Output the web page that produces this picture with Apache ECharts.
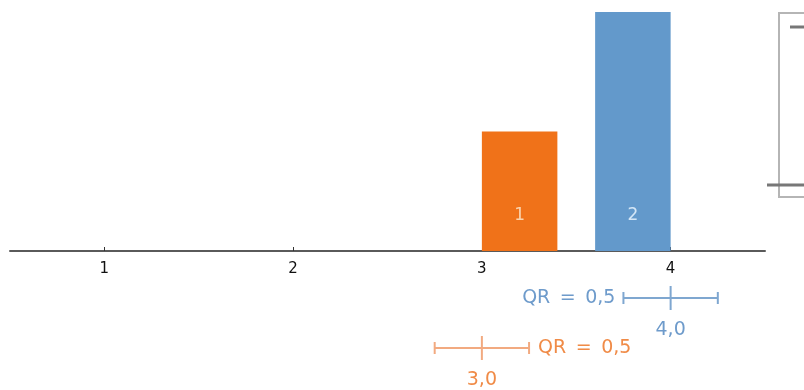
<!DOCTYPE html>
<html>
<head>
<meta charset="utf-8">
<script src="https://cdn.jsdelivr.net/npm/echarts@6/dist/echarts.min.js"></script>
<style>html,body{margin:0;padding:0;background:#fff}#c{width:804px;height:390px}</style>
</head>
<body>
<div id="c"></div>
<script>
// Histogram bins: [start, end]
var binStart = [3.0, 3.6];
var binEnd = [3.4, 4.0];
var binCount = [1, 2];
var binColors = ['#F07219', '#6399CB'];
var binLabelColors = ['#FAD3AE', '#D4E6F6'];

// Spread summaries per series (row 0 = blue, row 1 = orange)
var rows = ['blue', 'orange'];
var q1 = [3.75, 2.75];
var q3 = [4.25, 3.25];
var median = [4.0, 3.0];
var medianLabels = ['4,0', '3,0'];
var qrLabels = ['QR = 0,5', 'QR = 0,5'];
var qrSide = ['left', 'right'];
var lineColors = ['#7FA7D0', '#F2AA80'];
var textColors = ['#6E9BCB', '#F08B47'];

// x-axis tick labels
var xTicks = [1, 2, 3, 4];

var chart = echarts.init(document.getElementById('c'));
var FONT = 'DejaVu Sans';

var barData = binStart.map(function (s, i) { return [s, binEnd[i], binCount[i], i]; });
var boxData = rows.map(function (r, i) { return [q1[i], q3[i], median[i], i]; });

chart.setOption({
  animation: false,
  grid: [
    { left: 10, right: 39, top: 12, height: 239 },
    { left: 10, right: 39, top: 273, height: 100 }
  ],
  xAxis: [
    {
      gridIndex: 0, type: 'value', min: 0.5, max: 4.5, interval: 0.5,
      axisLine: { show: true, lineStyle: { color: '#5a5a5a', width: 2 } },
      axisTick: { show: true, inside: true, length: 4, lineStyle: { color: '#333' },
        customValues: xTicks },
      axisLabel: { color: '#111', fontSize: 15, fontFamily: FONT, margin: 11,
        customValues: xTicks },
      splitLine: { show: false }
    },
    {
      gridIndex: 1, type: 'value', min: 0.5, max: 4.5, show: false
    }
  ],
  yAxis: [
    { gridIndex: 0, type: 'value', min: 0, max: 2, show: false },
    { gridIndex: 1, type: 'category', data: rows, inverse: true, show: false }
  ],
  series: [
    {
      type: 'custom',
      xAxisIndex: 0, yAxisIndex: 0,
      data: barData,
      clip: false,
      renderItem: function (params, api) {
        var i = api.value(3);
        var p0 = api.coord([api.value(0), api.value(2)]);
        var p1 = api.coord([api.value(1), 0]);
        return {
          type: 'group',
          children: [
            { type: 'rect', shape: { x: p0[0], y: p0[1], width: p1[0] - p0[0], height: p1[1] - p0[1] },
              style: { fill: binColors[i] } },
            { type: 'text', x: (p0[0] + p1[0]) / 2, y: p1[1] - 35,
              style: { text: String(api.value(2)), fill: binLabelColors[i], fontSize: 17, fontFamily: FONT,
                align: 'center', verticalAlign: 'middle' } }
          ]
        };
      }
    },
    {
      type: 'custom',
      xAxisIndex: 1, yAxisIndex: 1,
      data: boxData,
      clip: false,
      renderItem: function (params, api) {
        var i = api.value(3);
        var a = api.coord([api.value(0), i]);
        var b = api.coord([api.value(1), i]);
        var m = api.coord([api.value(2), i]);
        var y = a[1];
        var ls = { stroke: lineColors[i], lineWidth: 2 };
        var qrX = qrSide[i] === 'left' ? a[0] - 8 : b[0] + 9;
        return {
          type: 'group',
          children: [
            { type: 'line', shape: { x1: a[0], y1: y, x2: b[0], y2: y }, style: ls },
            { type: 'line', shape: { x1: a[0], y1: y - 6, x2: a[0], y2: y + 6 }, style: ls },
            { type: 'line', shape: { x1: b[0], y1: y - 6, x2: b[0], y2: y + 6 }, style: ls },
            { type: 'line', shape: { x1: m[0], y1: y - 12, x2: m[0], y2: y + 12 }, style: ls },
            { type: 'text', x: qrX, y: y,
              style: { text: qrLabels[i].replace(/ /g, '\u2002'), fill: textColors[i], fontSize: 19, fontFamily: FONT,
                align: qrSide[i] === 'left' ? 'right' : 'left', verticalAlign: 'middle' } },
            { type: 'text', x: m[0], y: y + 32,
              style: { text: medianLabels[i], fill: textColors[i], fontSize: 19, fontFamily: FONT,
                align: 'center', verticalAlign: 'middle' } }
          ]
        };
      }
    }
  ],
  graphic: [
    { type: 'rect', shape: { x: 779, y: 13, width: 30, height: 184 },
      style: { fill: '#fff', stroke: '#b5b5b5', lineWidth: 2 } },
    { type: 'line', shape: { x1: 790, y1: 27, x2: 804, y2: 27 },
      style: { stroke: '#777', lineWidth: 3 } },
    { type: 'line', shape: { x1: 767, y1: 185, x2: 804, y2: 185 },
      style: { stroke: '#777', lineWidth: 3 } }
  ]
});
</script>
</body>
</html>
